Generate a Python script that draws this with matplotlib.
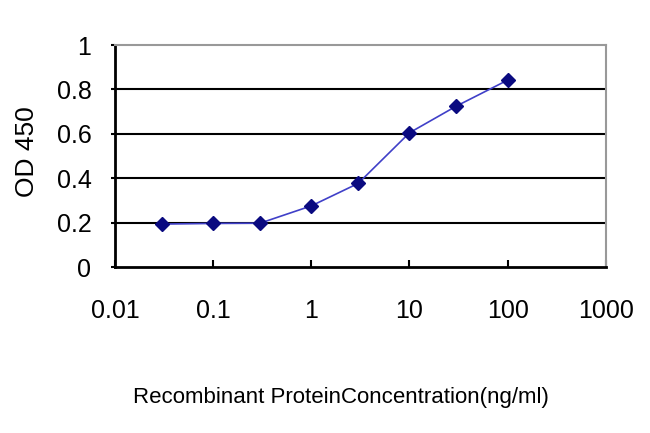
import matplotlib
matplotlib.use("Agg")
import matplotlib.pyplot as plt
from matplotlib.ticker import FixedLocator, FixedFormatter, NullLocator

plt.rcParams['font.family'] = ['Liberation Sans', 'DejaVu Sans']

# data
conc = [0.03, 0.1, 0.3, 1, 3, 10, 30, 100]
od = [0.194, 0.197, 0.198, 0.276, 0.377, 0.605, 0.725, 0.842]

x_ticks = [0.01, 0.1, 1, 10, 100, 1000]
x_labels = ['0.01', '0.1', '1', '10', '100', '1000']
y_ticks = [0, 0.2, 0.4, 0.6, 0.8, 1]
y_labels = ['0', '0.2', '0.4', '0.6', '0.8', '1']

fig = plt.figure(figsize=(6.5, 4.33), dpi=100)
ax = fig.add_axes([0.177, 0.383, 0.755, 0.513])

# horizontal grid lines
for y in y_ticks[1:-1]:
    ax.axhline(y, color='black', lw=1.5, zorder=1)

ax.plot(conc, od, color='#4040c8', lw=1.2, marker='D', markersize=7.5,
        markerfacecolor='#0a0a80', markeredgecolor='#0a0a80', zorder=3)

ax.set_xscale('log')
ax.set_xlim(0.01, 1000)
ax.set_ylim(0, 1)

ax.xaxis.set_major_locator(FixedLocator(x_ticks))
ax.xaxis.set_major_formatter(FixedFormatter(x_labels))
ax.xaxis.set_minor_locator(NullLocator())
ax.set_yticks(y_ticks)
ax.set_yticklabels(y_labels)

ax.tick_params(axis='x', direction='in', length=5, width=1.5, pad=23, labelsize=18)
ax.tick_params(axis='y', direction='out', length=3, width=1.5, pad=14, labelsize=18)

ax.spines['left'].set_linewidth(2)
ax.spines['bottom'].set_linewidth(2)
ax.spines['top'].set_color('#999999')
ax.spines['right'].set_color('#999999')
ax.spines['top'].set_linewidth(1.5)
ax.spines['right'].set_linewidth(1.5)

ax.set_ylabel('OD 450', fontsize=19)
ax.yaxis.set_label_coords(-0.155, 0.52)
fig.text(0.525, 0.083, 'Recombinant ProteinConcentration(ng/ml)',
         fontsize=16, ha='center', va='center')

fig.savefig('out.png', dpi=100, facecolor='white')
